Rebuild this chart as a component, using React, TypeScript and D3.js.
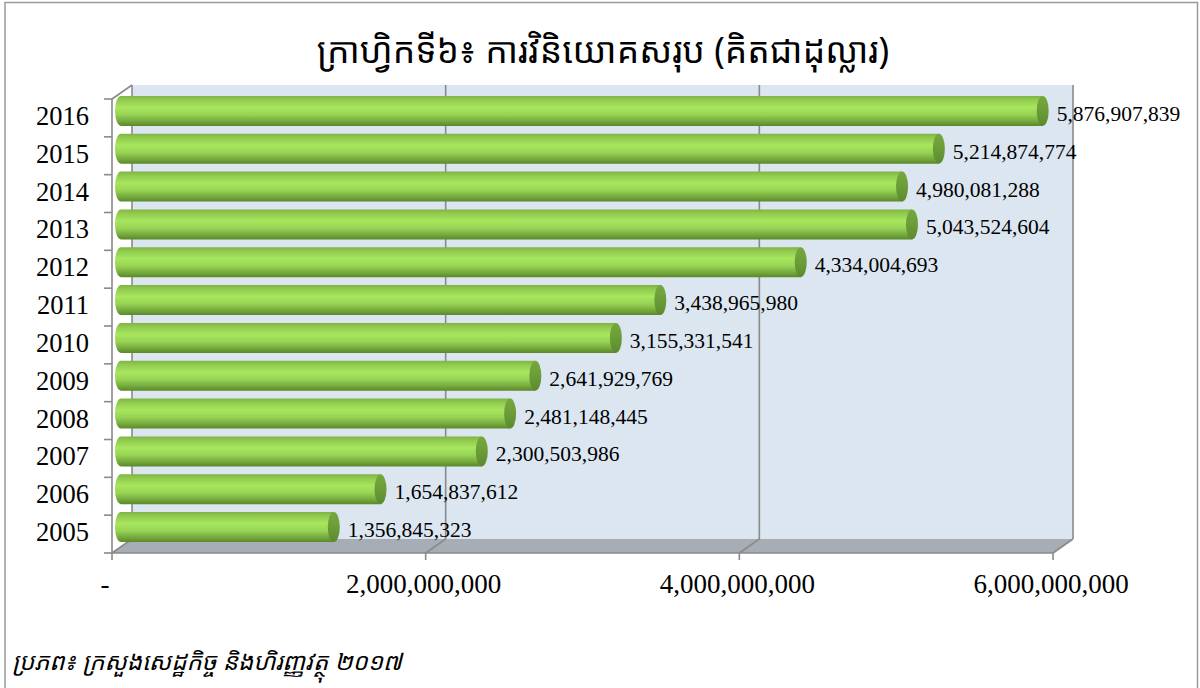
import React from "react";
import * as d3 from "d3";

const years = ["2005", "2006", "2007", "2008", "2009", "2010", "2011", "2012", "2013", "2014", "2015", "2016"];
const values = [1356845323, 1654837612, 2300503986, 2481148445, 2641929769, 3155331541, 3438965980, 4334004693, 5043524604, 4980081288, 5214874774, 5876907839];
const xTicks = [0, 2000000000, 4000000000, 6000000000];
const title = "ក្រាហ្វិកទី៦៖ ការវិនិយោគសរុប (គិតជាដុល្លារ)";
const source = "ប្រភព៖ ក្រសួងសេដ្ឋកិច្ច និងហិរញ្ញវត្ថុ ២០១៧";

const W = 1200;
const H = 688;
const DX = 20;
const DY = -14;
const serif = "'Liberation Serif', 'Times New Roman', 'DejaVu Serif', serif";
const khmer = "'Khmer OS', 'Noto Sans Khmer', 'Khmer OS System', 'Noto Sans', 'DejaVu Sans', sans-serif";

export default function App() {
  const x = d3.scaleLinear().domain([0, 6000000000]).range([112, 1053]);
  const y = d3.scaleBand().domain([...years].reverse()).range([99, 553]).paddingInner(0).paddingOuter(0);
  const fmt = d3.format(",");
  const bw = y.bandwidth();
  const barH = 30;
  const rx = 6;
  const half = { dx: DX / 2 - 1, dy: DY / 2 };
  const frontTop = 99;
  const frontBottom = 553;
  const axisColor = "#8a8a8a";

  const tickYs = years.map((yr) => y(yr) as number).concat([frontBottom]);

  return (
    <svg width={W} height={H} style={{ position: "absolute", left: 0, top: 0, background: "#fff" }}>
      <defs>
        <linearGradient id="cyl" x1="0" y1="0" x2="0" y2="1">
          <stop offset="0" stopColor="#7fb344" />
          <stop offset="0.12" stopColor="#8fc94e" />
          <stop offset="0.38" stopColor="#a8e65e" />
          <stop offset="0.62" stopColor="#98d455" />
          <stop offset="0.85" stopColor="#74a83c" />
          <stop offset="1" stopColor="#5a882b" />
        </linearGradient>
        <linearGradient id="cap" x1="0" y1="0" x2="0" y2="1">
          <stop offset="0" stopColor="#76a83e" />
          <stop offset="0.5" stopColor="#6c9c38" />
          <stop offset="1" stopColor="#5b8a2e" />
        </linearGradient>
      </defs>
      {/* outer border */}
      <rect x={5} y={2.5} width={1192.5} height={700} fill="#fff" stroke="#9a9a9a" strokeWidth={1.5} />

      {/* title */}
      <text x={603} y={63} textAnchor="middle" fontFamily={khmer} fontSize={35.5} fill="#000">
        {title}
      </text>

      {/* back wall */}
      <rect
        x={x(0) + DX}
        y={frontTop + DY}
        width={x(6000000000) - x(0)}
        height={frontBottom - frontTop}
        fill="#dce6f1"
      />
      {/* floor */}
      <polygon
        points={[
          [x(0), frontBottom],
          [x(6000000000), frontBottom],
          [x(6000000000) + DX, frontBottom + DY],
          [x(0) + DX, frontBottom + DY],
        ]
          .map((p) => p.join(","))
          .join(" ")}
        fill="#a6adb4"
      />
      {/* gridlines on wall and floor */}
      {xTicks.map((t) => (
        <g key={"g" + t}>
          <line x1={x(t) + DX} x2={x(t) + DX} y1={frontTop + DY} y2={frontBottom + DY} stroke={axisColor} strokeWidth={1.6} />
          <line x1={x(t)} x2={x(t) + DX} y1={frontBottom} y2={frontBottom + DY} stroke={axisColor} strokeWidth={1.6} />
        </g>
      ))}
      {/* left side wall top edge */}
      <line x1={x(0)} y1={frontTop} x2={x(0) + DX} y2={frontTop + DY} stroke={axisColor} strokeWidth={1.6} />
      {/* front axes */}
      <line x1={x(0)} x2={x(0)} y1={frontTop} y2={frontBottom} stroke={axisColor} strokeWidth={1.6} />
      <line x1={x(0)} x2={x(6000000000)} y1={frontBottom} y2={frontBottom} stroke={axisColor} strokeWidth={1.6} />
      {tickYs.map((ty, i) => (
        <line key={"yt" + i} x1={x(0) - 8} x2={x(0)} y1={ty} y2={ty} stroke={axisColor} strokeWidth={1.6} />
      ))}
      {xTicks.map((t) => (
        <line key={"xt" + t} x1={x(t)} x2={x(t)} y1={frontBottom} y2={frontBottom + 7} stroke={axisColor} strokeWidth={1.6} />
      ))}

      {/* bars */}
      {years.map((yr, i) => {
        const cy = (y(yr) as number) + bw / 2 + half.dy;
        const xl = x(0) + half.dx;
        const xr = x(values[i]) + half.dx;
        const top = cy - barH / 2;
        const bot = cy + barH / 2;
        const body = `M${xr},${top} L${xl},${top} A${rx},${barH / 2} 0 0 0 ${xl},${bot} L${xr},${bot} Z`;
        return (
          <g key={yr}>
            <path d={body} fill="url(#cyl)" />
            <ellipse cx={xr} cy={cy} rx={rx} ry={barH / 2} fill="url(#cap)" />
            <text x={xr + rx + 8} y={cy + 5} dominantBaseline="middle" fontFamily={serif} fontSize={21.5} fill="#000">
              {fmt(values[i])}
            </text>
          </g>
        );
      })}

      {/* year labels */}
      {years.map((yr) => (
        <text
          key={"l" + yr}
          x={89}
          y={(y(yr) as number) + bw / 2 + 1}
          textAnchor="end"
          dominantBaseline="middle"
          fontFamily={serif}
          fontSize={26.5}
          fill="#000"
        >
          {yr}
        </text>
      ))}

      {/* x labels */}
      {xTicks.map((t) => (
        <text key={"xl" + t} x={t === 0 ? 105 : x(t) - 2} y={593} textAnchor="middle" fontFamily={serif} fontSize={27} fill="#000">
          {t === 0 ? "-" : fmt(t)}
        </text>
      ))}

      {/* source */}
      <text x={12} y={670} fontFamily={khmer} fontStyle="italic" fontSize={24} fill="#000">
        {source}
      </text>
    </svg>
  );
}
